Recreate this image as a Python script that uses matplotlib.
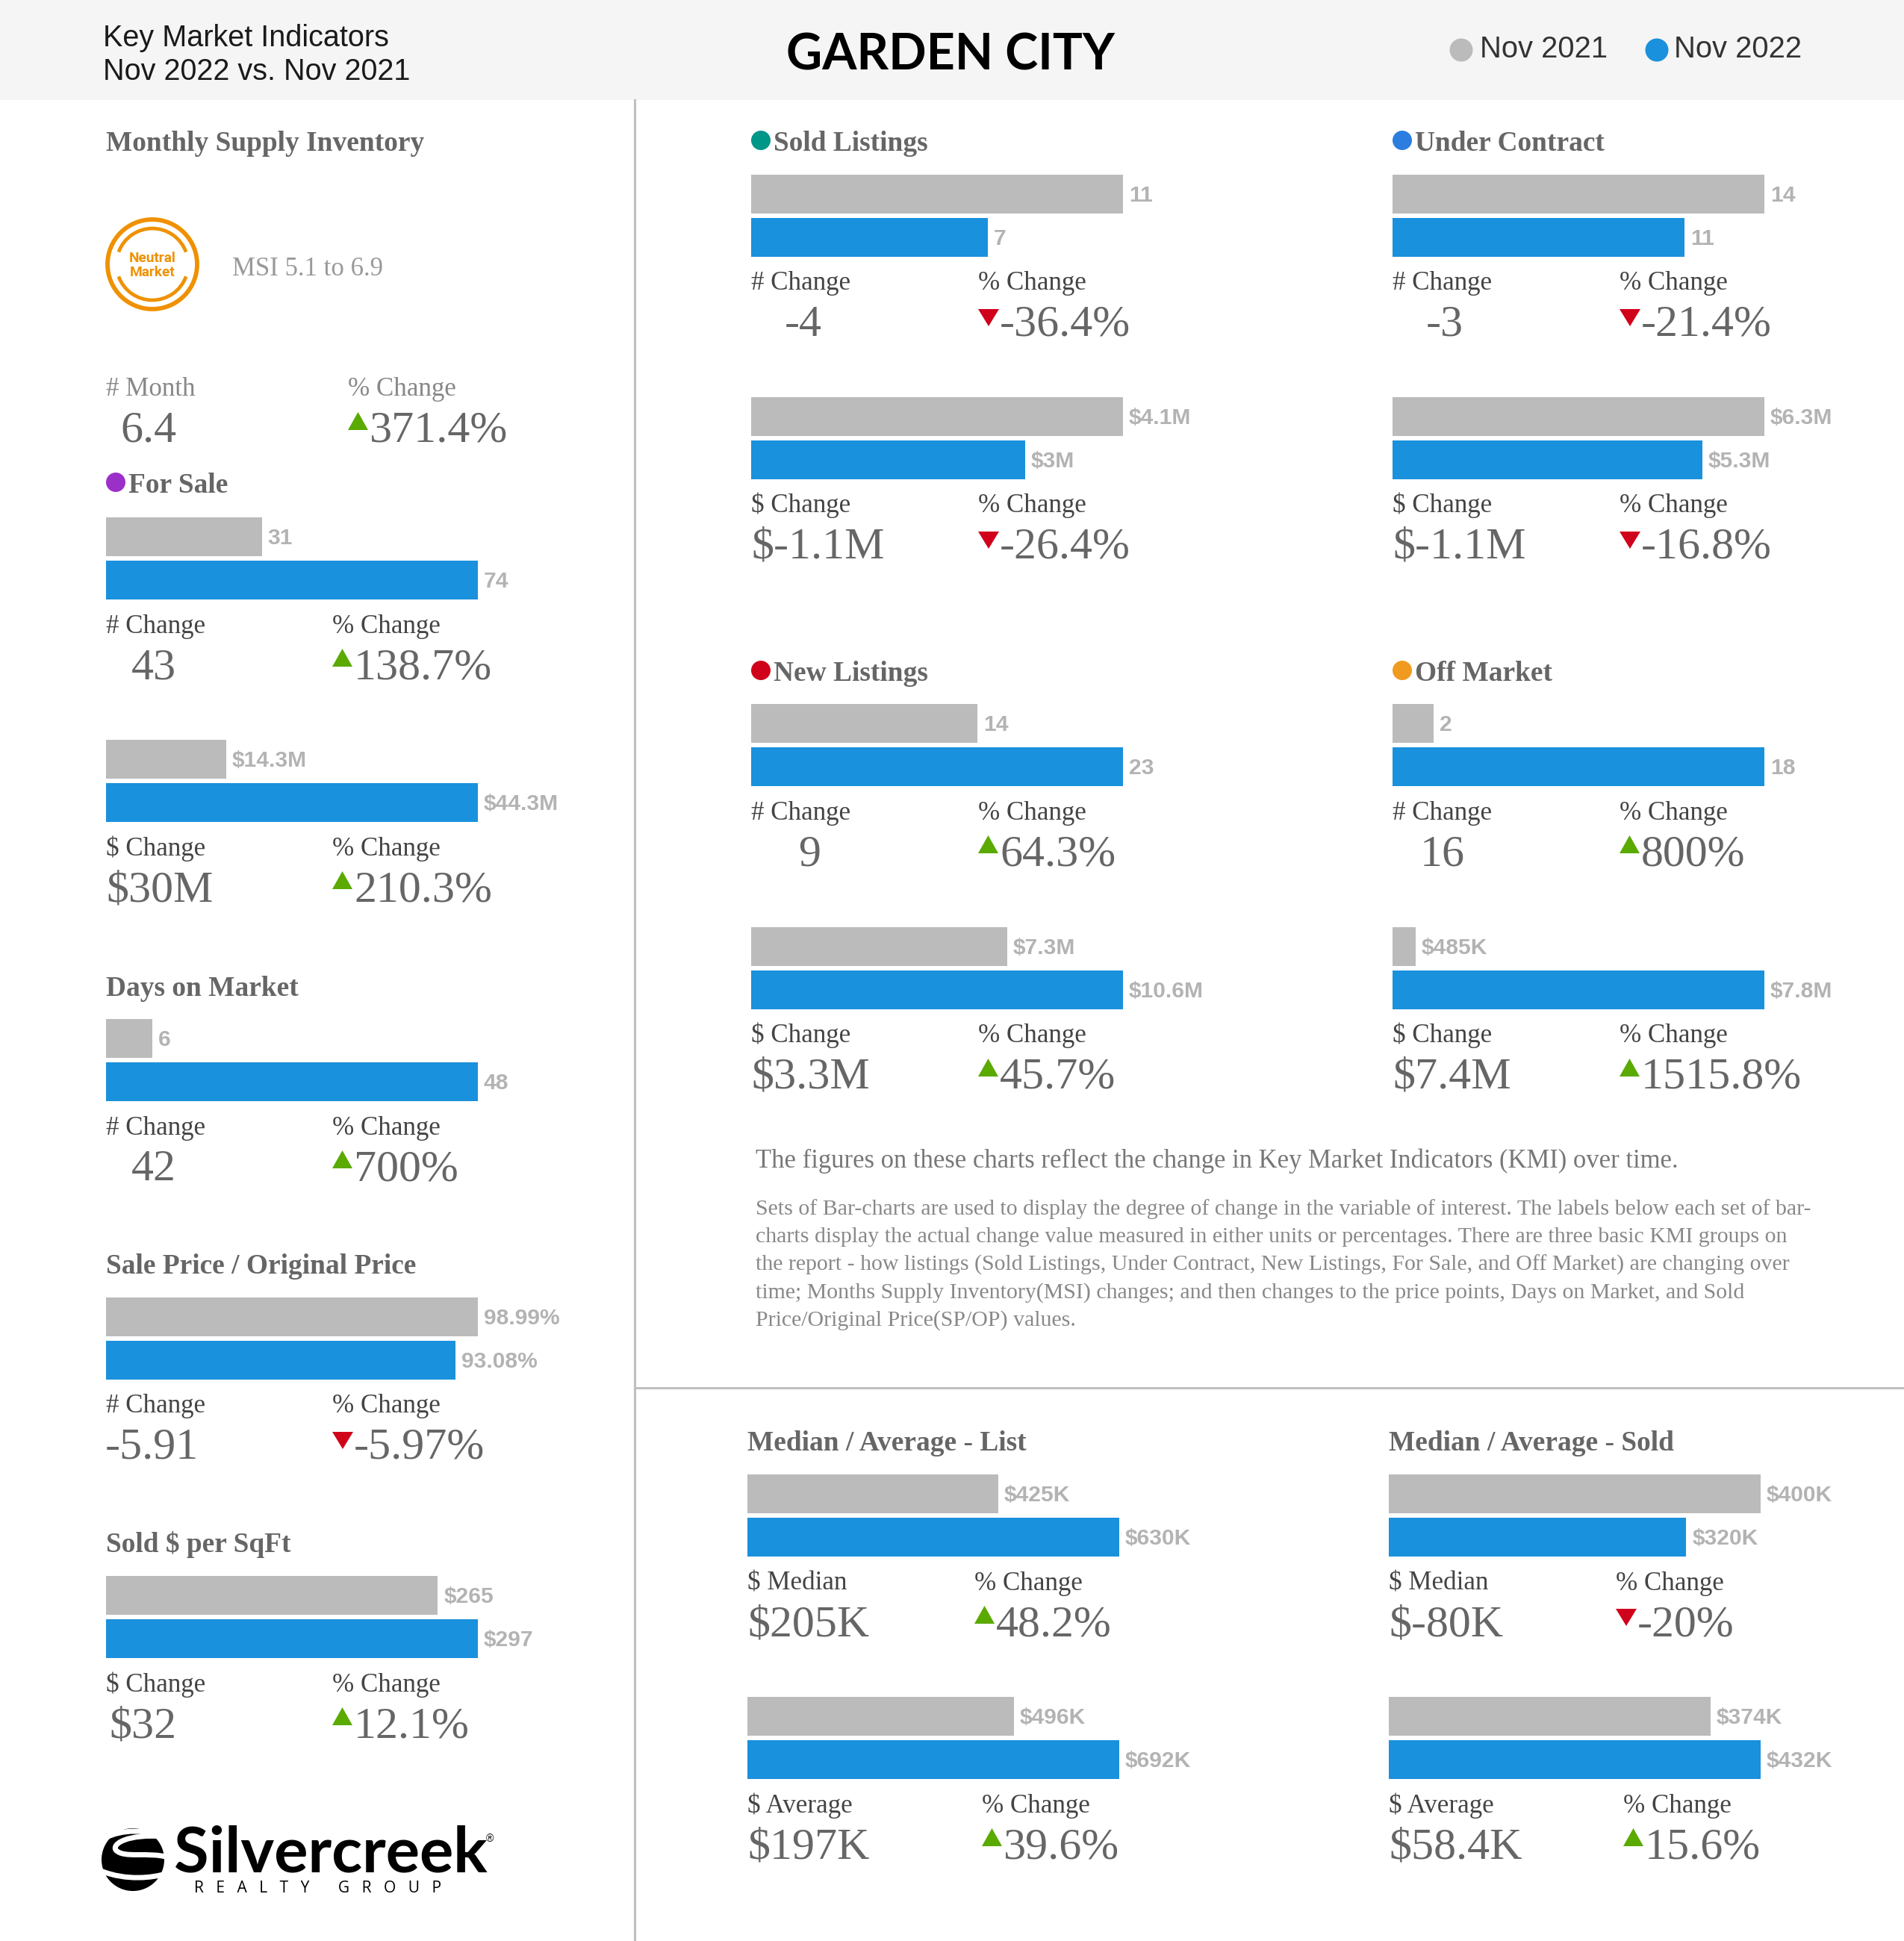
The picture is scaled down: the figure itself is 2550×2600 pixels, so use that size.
import matplotlib
matplotlib.use("Agg")
import matplotlib.pyplot as plt
from matplotlib.patches import Circle, Ellipse, Polygon, Rectangle, Arc, PathPatch
from matplotlib.path import Path

# values of every bar pair
prev_values = [31, 14.3, 6, 98.99, 265, 11, 4.1, 14, 6.3, 14, 7.3, 2, 0.485, 425, 496, 400, 374]
curr_values = [74, 44.3, 48, 93.08, 297, 7, 3.02, 11, 5.25, 23, 10.6, 18, 7.8, 630, 692, 320, 432]
prev_labels = ["31", "$14.3M", "6", "98.99%", "$265", "11", "$4.1M", "14", "$6.3M", "14", "$7.3M", "2", "$485K",
               "$425K", "$496K", "$400K", "$374K"]
curr_labels = ["74", "$44.3M", "48", "93.08%", "$297", "7", "$3M", "11", "$5.3M", "23", "$10.6M", "18", "$7.8M",
               "$630K", "$692K", "$320K", "$432K"]
change_names = ["# Change", "$ Change", "# Change", "# Change", "$ Change", "# Change", "$ Change", "# Change",
                "$ Change", "# Change", "$ Change", "# Change", "$ Change", "$ Median", "$ Average", "$ Median",
                "$ Average"]
change_values = ["43", "$30M", "42", "-5.91", "$32", "-4", "$-1.1M", "-3", "$-1.1M", "9", "$3.3M", "16", "$7.4M",
                 "$205K", "$197K", "$-80K", "$58.4K"]
pct_values = ["138.7%", "210.3%", "700%", "-5.97%", "12.1%", "-36.4%", "-26.4%", "-21.4%", "-16.8%", "64.3%",
              "45.7%", "800%", "1515.8%", "48.2%", "39.6%", "-20%", "15.6%"]

section_titles = ["For Sale", "Days on Market", "Sale Price / Original Price", "Sold $ per SqFt", "Sold Listings",
                  "Under Contract", "New Listings", "Off Market", "Median / Average - List",
                  "Median / Average - Sold"]

note_title = "The figures on these charts reflect the change in Key Market Indicators (KMI) over time."
note_lines = [
    "Sets of Bar-charts are used to display the degree of change in the variable of interest. The labels below each set of bar-",
    "charts display the actual change value measured in either units or percentages. There are three basic KMI groups on",
    "the report - how listings (Sold Listings, Under Contract, New Listings, For Sale, and Off Market) are changing over",
    "time; Months Supply Inventory(MSI) changes; and then changes to the price points, Days on Market, and Sold",
    "Price/Original Price(SP/OP) values.",
]

GREY = "#bbbbbb"
BLUE = "#1a91dc"
SERIF = "Liberation Serif"
SANS = "Liberation Sans"
WIDTH, HEIGHT = 2550, 2600
BAR_W = 498
BAR_H = 110


def pt(px):
    return px * 0.72


fig = plt.figure(figsize=(25.5, 26), dpi=100, facecolor="white")
bg = fig.add_axes([0, 0, 1, 1])
bg.set_xlim(0, WIDTH)
bg.set_ylim(HEIGHT, 0)
bg.axis("off")
renderer = fig.canvas.get_renderer()


def width_of(t):
    return t.get_window_extent(renderer).width


def triangle(x, base, up):
    if up:
        bg.add_patch(Polygon([(x, base - 16), (x + 27, base - 16), (x + 13.5, base - 40)], color="#5aaa00", lw=0))
    else:
        bg.add_patch(Polygon([(x, base - 36), (x + 28, base - 36), (x + 14, base - 13)], color="#d0021b", lw=0))


def stat_row(x0, pct_x, top, name, value, pct, name_color="#444444", name2_color="#444444", val_dx=0):
    lab = bg.text(x0, top + 154.5, name, family=SERIF, fontsize=pt(35), color=name_color, va="baseline")
    bg.text(pct_x, top + 154.5, "% Change", family=SERIF, fontsize=pt(35), color=name2_color, va="baseline")
    val = bg.text(x0, top + 216, value, family=SERIF, fontsize=pt(60), color="#666666", va="baseline")
    lw, vw = width_of(lab), width_of(val)
    if vw < lw:
        val.set_x(x0 + (lw - vw) / 2 + val_dx)
    triangle(pct_x, top + 216, not pct.startswith("-"))
    bg.text(pct_x + 29, top + 216, pct, family=SERIF, fontsize=pt(60), color="#666666", va="baseline")


def panel(i, x0, pct_x, top, val_dx=-3):
    ax = fig.add_axes([x0 / WIDTH, 1 - (top + BAR_H) / HEIGHT, BAR_W / WIDTH, BAR_H / HEIGHT])
    ax.barh([1, 0], [prev_values[i], curr_values[i]], height=0.895, color=[GREY, BLUE])
    ax.set_xlim(0, max(prev_values[i], curr_values[i]))
    ax.set_ylim(-0.447, 1.447)
    ax.axis("off")
    for y, v, s in [(1, prev_values[i], prev_labels[i]), (0, curr_values[i], curr_labels[i])]:
        ax.annotate(s, (v, y), xytext=(8, -2), textcoords="offset pixels", family=SANS, weight="bold",
                    fontsize=pt(30), color="#b3b3b3", va="center", annotation_clip=False)
    stat_row(x0, pct_x, top, change_names[i], change_values[i], pct_values[i], val_dx=val_dx)


def title(x, base, s, dot=None):
    if dot:
        bg.add_patch(Circle((x + 13, base - 13), 13, color=dot, lw=0))
        x += 30
    bg.text(x, base + 1, s, family=SERIF, weight="bold", fontsize=pt(37.4), color="#666666", va="baseline")


# header band
bg.add_patch(Rectangle((0, 0), WIDTH, 134, color="#f5f5f5", lw=0))
bg.text(138, 62, "Key Market Indicators", family=SANS, fontsize=pt(39.6), color="#1a1a1a", va="baseline")
bg.text(138, 107, "Nov 2022 vs. Nov 2021", family=SANS, fontsize=pt(39.6), color="#1a1a1a", va="baseline")
bg.text(1273, 74, "GARDEN CITY", family="Lato", weight="bold", fontsize=pt(66.5), color="black", ha="center", va="center")
for cx, tx, c, s in [(1957, 1982, GREY, "Nov 2021"), (2219, 2242, BLUE, "Nov 2022")]:
    bg.add_patch(Circle((cx, 67), 15.5, color=c, lw=0))
    bg.text(tx, 77, s, family=SANS, fontsize=pt(40), color="#333333", va="baseline")

# dividers
bg.plot([850, 850], [134, HEIGHT], color="#c0c0c0", lw=2.2)
bg.plot([850, WIDTH], [1859, 1859], color="#c0c0c0", lw=2.2)

# left column
title(142, 201, "Monthly Supply Inventory")
ORANGE = "#ef9100"
bg.add_patch(Circle((204, 354), 60, fill=False, ec=ORANGE, lw=4.2))
bg.add_patch(Arc((204, 354), 96, 96, theta1=200, theta2=340, ec=ORANGE, lw=3.4))
bg.add_patch(Arc((204, 354), 96, 96, theta1=20, theta2=160, ec=ORANGE, lw=3.4))
bg.text(204, 346, "Neutral", family="Roboto", weight="bold", fontsize=pt(19), color=ORANGE, ha="center", va="center")
bg.text(204, 365, "Market", family="Roboto", weight="bold", fontsize=pt(19), color=ORANGE, ha="center", va="center")
bg.text(311, 369, "MSI 5.1 to 6.9", family=SERIF, fontsize=pt(34.8), color="#999999", va="baseline")
stat_row(142, 466, 376, "# Month", "6.4", "371.4%", name_color="#888888", name2_color="#888888", val_dx=-3)

title(142, 659, section_titles[0], dot="#9b30c8")
panel(0, 142, 445, 693)
panel(1, 142, 445, 991)
title(142, 1333, section_titles[1])
panel(2, 142, 445, 1365)
title(142, 1705, section_titles[2])
panel(3, 142, 445, 1738, val_dx=-5)
title(142, 2078, section_titles[3])
panel(4, 142, 445, 2111, val_dx=-17)

# middle and right columns
title(1006, 201, section_titles[4], dot="#009688")
panel(5, 1006, 1310, 234, val_dx=3)
panel(6, 1006, 1310, 532)
title(1865, 201, section_titles[5], dot="#2b7de0")
panel(7, 1865, 2169, 234, val_dx=3)
panel(8, 1865, 2169, 532)
title(1006, 911, section_titles[6], dot="#d0021b")
panel(9, 1006, 1310, 943, val_dx=12)
panel(10, 1006, 1310, 1242)
title(1865, 911, section_titles[7], dot="#f09a20")
panel(11, 1865, 2169, 943, val_dx=0)
panel(12, 1865, 2169, 1242)

# note
bg.text(1012, 1564, note_title, family=SERIF, fontsize=pt(34.65), color="#777777", va="baseline")
for k, line in enumerate(note_lines):
    bg.text(1012, 1627 + k * 37.2, line, family=SERIF, fontsize=pt(29.9), color="#888888", va="baseline")

# bottom block
title(1001, 1942, section_titles[8])
panel(13, 1001, 1305, 1975)
panel(14, 1001, 1315, 2273)
title(1860, 1942, section_titles[9])
panel(15, 1860, 2164, 1975)
panel(16, 1860, 2174, 2273)

# logo
bg.add_patch(Ellipse((178, 2491), 84, 84, color="black", lw=0))
curves = [[(140, 2462), (165, 2450), (195, 2450), (222, 2462)],
          [(222, 2460), (170, 2456), (150, 2470), (155, 2478), (165, 2490), (200, 2480), (225, 2488)],
          [(135, 2506), (170, 2520), (205, 2515), (222, 2510)]]
for pts in curves:
    codes = [Path.MOVETO] + [Path.CURVE4] * (len(pts) - 1)
    bg.add_patch(PathPatch(Path(pts, codes), fill=False, ec="white", lw=5))
bg.text(233, 2508, "Silvercreek", family="Lato", weight="bold", fontsize=pt(85), color="black", va="baseline")
bg.text(651, 2463, "®", family=SANS, fontsize=pt(14), color="black", ha="left", va="center")
bg.text(260, 2535, "R   E   A   L   T   Y       G   R   O   U   P", family="Open Sans", fontsize=pt(21),
        color="black", va="baseline")

fig.savefig("out.png", dpi=100)
